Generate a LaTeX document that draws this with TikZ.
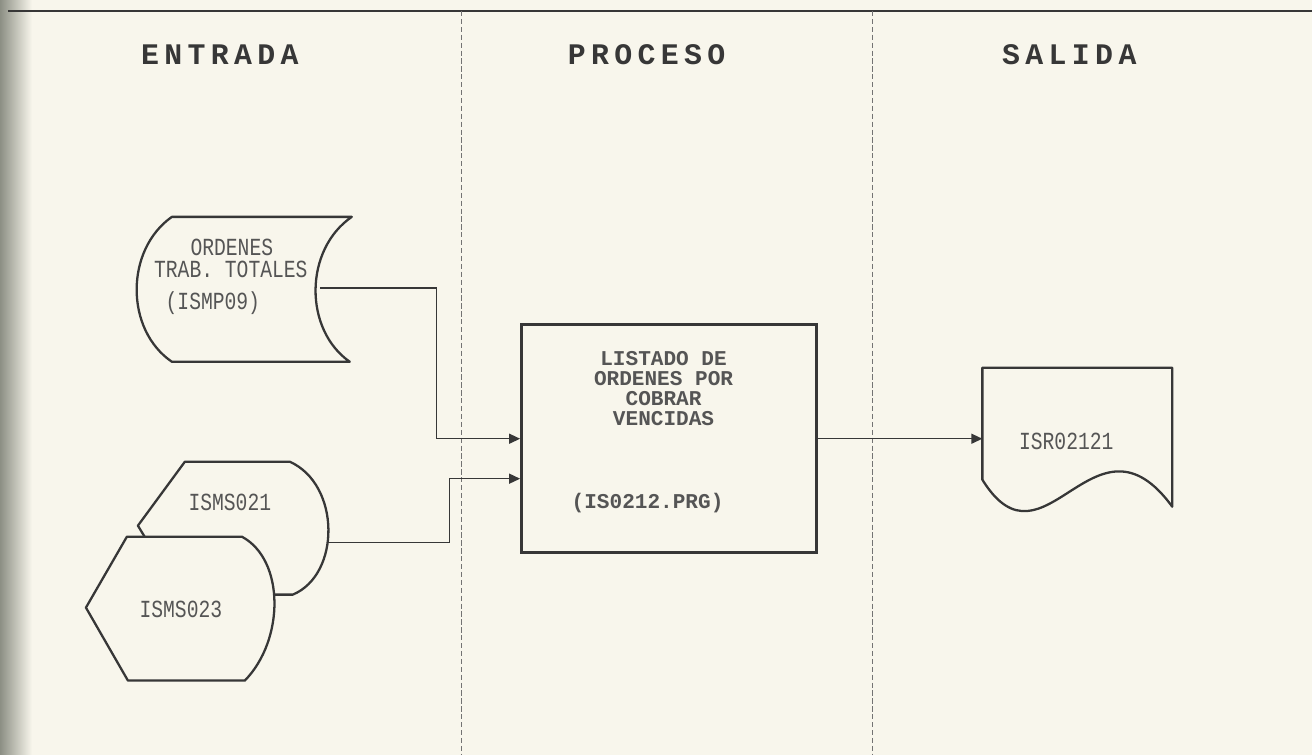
\documentclass[tikz,border=0pt]{standalone}
\usepackage{fontspec}
\newfontfamily\dotfont[FakeStretch=0.8]{Liberation Mono}
\newfontfamily\procfont{Liberation Mono}
\newfontfamily\hdrfont[LetterSpace=18]{Liberation Mono}
\usetikzlibrary{arrows.meta, backgrounds}
\definecolor{paper}{RGB}{248,246,236}
\definecolor{ink}{RGB}{55,55,55}
\definecolor{strip}{RGB}{140,143,132}

\begin{document}
\begin{tikzpicture}[x=0.02cm, y=-0.02cm,
    hdr/.style={font=\hdrfont\bfseries\fontsize{17}{20}\selectfont, text=ink},
    lbl/.style={font=\dotfont\fontsize{14}{10.5}\selectfont, text=ink!85,
                align=center, inner sep=0pt},
    plbl/.style={lbl, font=\procfont\bfseries\fontsize{12}{11.5}\selectfont},
    shp/.style={draw=ink, line width=1.3pt, fill=paper, line join=round},
    procbox/.style={rectangle, draw=ink, line width=1.8pt, fill=paper,
                    minimum width=5.9cm, minimum height=4.56cm},
    flow/.style={draw=ink, line width=0.8pt,
                 -{Triangle[length=0.22cm, width=0.2cm]}},
    sep/.style={draw=ink!70, line width=0.5pt, dash pattern=on 3pt off 1.5pt},
]
  % ---- page ----
  \fill[paper] (0,0) rectangle (1313,755);
  \shade[left color=strip, right color=paper] (0,0) rectangle (32,755);
  \draw[ink, line width=1pt] (8,11) -- (1313,11);
  \draw[sep] (462,11) -- (462,755);
  \draw[sep] (873,11) -- (873,755);

  % ---- headers ----
  \node[hdr] (hdrIn)   at (220,55)  {ENTRADA};
  \node[hdr] (hdrProc) at (647,55)  {PROCESO};
  \node[hdr] (hdrOut)  at (1070,55) {SALIDA};

  % ---- entrada ----
  \draw[shp] (172,217) -- (352,217)
    .. controls (304,250) and (304,330) .. (350,362) -- (172,362)
    .. controls (125,330) and (125,250) .. cycle;
  \node[lbl] (ordA) at (232,248) {ORDENES};
  \node[lbl] (ordB) at (231,270) {TRAB. TOTALES};
  \node[lbl] (ordC) at (213,303) {(ISMP09)};
  \coordinate (ordOut) at (320,288);

  \draw[shp] (185,462) -- (290,462)
    .. controls (341,485) and (341,575) .. (293,595) -- (180,595)
    -- (138,526) -- cycle;
  \node[lbl] (s21) at (230,503) {ISMS021};
  \coordinate (s21Out) at (328,543);

  \draw[shp] (127,537) -- (242,537)
    .. controls (285,560) and (285,640) .. (245,681) -- (128,681)
    -- (86,608) -- cycle;
  \node[lbl] (s23) at (181,610) {ISMS023};

  % ---- proceso ----
  \node[procbox] (proc) at (669.5,439) {};
  \node[plbl] (procA) at (664,389) {LISTADO DE\\ORDENES POR\\COBRAR\\VENCIDAS};
  \node[plbl] (procB) at (648,503) {(IS0212.PRG)};

  % ---- salida ----
  \draw[shp] (983,480) -- (983,368) -- (1173,368) -- (1173,507)
    .. controls (1095,400) and (1045,580) .. cycle;
  \node[lbl] (rep) at (1067,442) {ISR02121};
  \coordinate (repIn) at (983,439);

  % ---- flows ----
  \draw[flow] (ordOut) -- (437,288) |- (proc.west);
  \draw[flow] (s21Out) -- (450,543) |- ([yshift=-0.8cm]proc.west);
  \draw[flow] (proc.east) -- (repIn);
\end{tikzpicture}
\end{document}
